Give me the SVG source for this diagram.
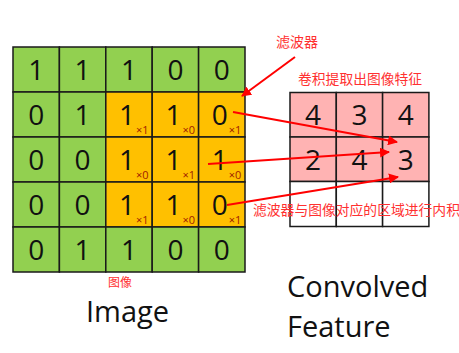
<svg xmlns="http://www.w3.org/2000/svg" width="459" height="353" viewBox="0 0 459 353">
<defs>
<style>
.g{fill:#92d050;stroke:#1a1a1a;stroke-width:1.5}
.o{fill:#ffc000;stroke:#1a1a1a;stroke-width:1.5}
.p{fill:#ffb3b3;stroke:#1a1a1a;stroke-width:1.5}
.w{fill:#ffffff;stroke:#1a1a1a;stroke-width:1.5}
.d{font-family:"Open Sans","Liberation Sans",sans-serif;font-size:28px;fill:#111;text-anchor:middle}
.s{font-family:"Open Sans","Liberation Sans",sans-serif;font-size:11px;fill:#a02000}
.r{font-family:"Noto Sans CJK SC",sans-serif;fill:#ff3030}
.t{font-family:"Open Sans","Liberation Sans",sans-serif;font-size:29px;fill:#111}
.a{stroke:#ff0000;stroke-width:2;fill:none;marker-end:url(#ah)}
</style>
<marker id="ah" viewBox="0 0 10 10" refX="9" refY="5" markerWidth="5" markerHeight="5" orient="auto">
<path d="M0,0 L10,5 L0,10 z" fill="#ff0000"/>
</marker>
</defs>
<rect width="459" height="353" fill="#ffffff"/>
<g id="image">
<rect class="g" x="13" y="47" width="46.4" height="45"/>
<rect class="g" x="59.4" y="47" width="46.4" height="45"/>
<rect class="g" x="105.8" y="47" width="46.4" height="45"/>
<rect class="g" x="152.2" y="47" width="46.4" height="45"/>
<rect class="g" x="198.6" y="47" width="46.4" height="45"/>
<rect class="g" x="13" y="92" width="46.4" height="45"/>
<rect class="g" x="59.4" y="92" width="46.4" height="45"/>
<rect class="o" x="105.8" y="92" width="46.4" height="45"/>
<rect class="o" x="152.2" y="92" width="46.4" height="45"/>
<rect class="o" x="198.6" y="92" width="46.4" height="45"/>
<rect class="g" x="13" y="137" width="46.4" height="45"/>
<rect class="g" x="59.4" y="137" width="46.4" height="45"/>
<rect class="o" x="105.8" y="137" width="46.4" height="45"/>
<rect class="o" x="152.2" y="137" width="46.4" height="45"/>
<rect class="o" x="198.6" y="137" width="46.4" height="45"/>
<rect class="g" x="13" y="182" width="46.4" height="45"/>
<rect class="g" x="59.4" y="182" width="46.4" height="45"/>
<rect class="o" x="105.8" y="182" width="46.4" height="45"/>
<rect class="o" x="152.2" y="182" width="46.4" height="45"/>
<rect class="o" x="198.6" y="182" width="46.4" height="45"/>
<rect class="g" x="13" y="227" width="46.4" height="45"/>
<rect class="g" x="59.4" y="227" width="46.4" height="45"/>
<rect class="g" x="105.8" y="227" width="46.4" height="45"/>
<rect class="g" x="152.2" y="227" width="46.4" height="45"/>
<rect class="g" x="198.6" y="227" width="46.4" height="45"/>
<text class="d" x="36.2" y="80">1</text><text class="d" x="82.6" y="80">1</text><text class="d" x="129" y="80">1</text><text class="d" x="175.4" y="80">0</text><text class="d" x="221.8" y="80">0</text>
<text class="d" x="36.2" y="125">0</text><text class="d" x="82.6" y="125">1</text><text class="d" x="127" y="125">1</text><text class="d" x="173.4" y="125">1</text><text class="d" x="219.8" y="125">0</text>
<text class="d" x="36.2" y="170">0</text><text class="d" x="82.6" y="170">0</text><text class="d" x="127" y="170">1</text><text class="d" x="173.4" y="170">1</text><text class="d" x="219.8" y="170">1</text>
<text class="d" x="36.2" y="215">0</text><text class="d" x="82.6" y="215">0</text><text class="d" x="127" y="215">1</text><text class="d" x="173.4" y="215">1</text><text class="d" x="219.8" y="215">0</text>
<text class="d" x="36.2" y="260">0</text><text class="d" x="82.6" y="260">1</text><text class="d" x="129" y="260">1</text><text class="d" x="175.4" y="260">0</text><text class="d" x="221.8" y="260">0</text>
<text class="s" x="136" y="134">×1</text><text class="s" x="182.4" y="134">×0</text><text class="s" x="228.8" y="134">×1</text>
<text class="s" x="136" y="179">×0</text><text class="s" x="182.4" y="179">×1</text><text class="s" x="228.8" y="179">×0</text>
<text class="s" x="136" y="224">×1</text><text class="s" x="182.4" y="224">×0</text><text class="s" x="228.8" y="224">×1</text>
</g>
<g id="feature">
<rect class="p" x="290" y="92.5" width="46.3" height="44.5"/>
<rect class="p" x="336.3" y="92.5" width="46.3" height="44.5"/>
<rect class="p" x="382.6" y="92.5" width="46.3" height="44.5"/>
<rect class="p" x="290" y="137" width="46.3" height="44.5"/>
<rect class="p" x="336.3" y="137" width="46.3" height="44.5"/>
<rect class="p" x="382.6" y="137" width="46.3" height="44.5"/>
<rect class="w" x="290" y="181.5" width="46.3" height="45"/>
<rect class="w" x="336.3" y="181.5" width="46.3" height="45"/>
<rect class="w" x="382.6" y="181.5" width="46.3" height="45"/>
<text class="d" x="313" y="125">4</text><text class="d" x="359.4" y="125">3</text><text class="d" x="405.7" y="125">4</text>
<text class="d" x="313" y="170">2</text><text class="d" x="359.4" y="170">4</text><text class="d" x="405.7" y="170">3</text>
</g>
<g id="labels">
<text class="r" x="276" y="47" font-size="14">滤波器</text>
<text class="r" x="298" y="84" font-size="13.8">卷积提取出图像特征</text>
<text class="r" x="253" y="215" font-size="13.8">滤波器与图像对应的区域进行内积</text>
<text class="r" x="108" y="287" font-size="12">图像</text>
<text class="t" x="86" y="322">Image</text>
<text class="t" x="287" y="297">Convolved</text>
<text class="t" x="287" y="337">Feature</text>
</g>
<g id="connectors">
<path class="a" d="M295,57 L242,96"/>
<path class="a" d="M233,112 L397,142"/>
<path class="a" d="M208,164 L389,152"/>
<path class="a" d="M227,205 L398,177"/>
</g>
</svg>
